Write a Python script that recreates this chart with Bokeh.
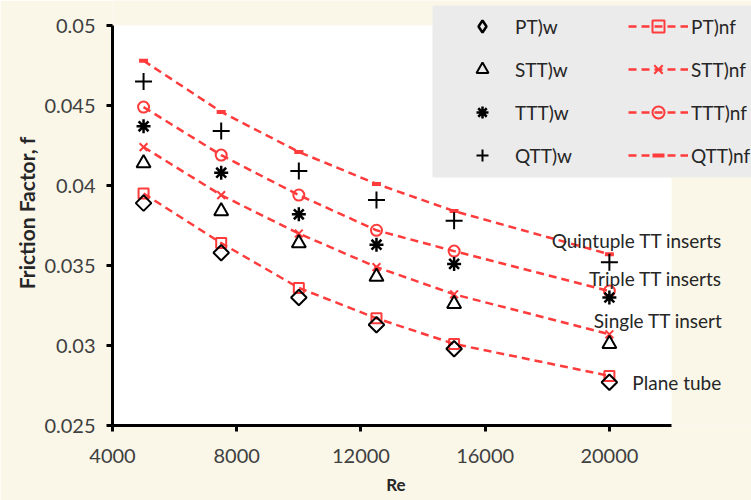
import math
from bokeh.plotting import figure
from bokeh.models import (Legend, LegendItem, FixedTicker, NumeralTickFormatter, Label,
                          BoxAnnotation)
from bokeh.embed import file_html
from bokeh.resources import INLINE

# ---- data ----
Re = [5000, 7500, 10000, 12500, 15000, 20000]
pt_w = [0.0389, 0.0358, 0.0330, 0.0313, 0.0298, 0.0277]
stt_w = [0.0414, 0.0384, 0.0364, 0.0343, 0.0326, 0.0301]
ttt_w = [0.0437, 0.0408, 0.0382, 0.0363, 0.0351, 0.0330]
qtt_w = [0.0465, 0.0434, 0.0409, 0.0391, 0.0378, 0.0352]
pt_nf = [0.0395, 0.0364, 0.0336, 0.0317, 0.0301, 0.0281]
stt_nf = [0.0424, 0.0394, 0.0370, 0.0349, 0.0332, 0.0307]
ttt_nf = [0.0449, 0.0419, 0.0394, 0.0372, 0.0359, 0.0334]
qtt_nf = [0.0478, 0.0446, 0.0421, 0.0401, 0.0384, 0.0357]
x_ticks = [4000, 8000, 12000, 16000, 20000]
y_ticks = [0.025, 0.03, 0.035, 0.04, 0.045, 0.05]
annotations = ["Quintuple TT inserts", "Triple TT inserts", "Single TT insert", "Plane tube"]

X_MIN, X_MAX = 4000, 22000
Y_MIN, Y_MAX = 0.025, 0.05

CREAM = "#faf7e9"
RED = "#ff3b3b"
BLACK = "#000000"
TXT = "#262626"
FONT = "Lato"

# the frame covers the plot area plus the space used by the legend/labels
p = figure(frame_width=639, frame_height=425,
           min_border_left=112, min_border_right=0,
           min_border_top=0, min_border_bottom=75,
           x_range=(X_MIN, 24576), y_range=(Y_MIN, 0.0515625),
           output_backend="svg", toolbar_location=None)
p.background_fill_color = CREAM
p.border_fill_color = CREAM
p.outline_line_color = None
p.xgrid.grid_line_color = None
p.ygrid.grid_line_color = None

# white plot area
p.add_layout(BoxAnnotation(left=X_MIN, right=X_MAX, bottom=Y_MIN, top=Y_MAX,
                           fill_color="white", fill_alpha=1.0, line_color=None,
                           level="underlay"))
# legend background box
p.add_layout(BoxAnnotation(left=14304, bottom=0.0405, top=0.05125,
                           fill_color="#ebebeb", fill_alpha=1.0, line_color=None,
                           level="underlay"))

for ax in (p.xaxis[0], p.yaxis[0]):
    ax.axis_line_width = 3
    ax.axis_line_color = BLACK
    ax.major_tick_line_width = 3
    ax.major_tick_line_color = BLACK
    ax.major_tick_out = 6
    ax.major_tick_in = 0
    ax.minor_tick_line_color = None
    ax.major_label_text_font = FONT
    ax.major_label_text_font_size = "20px"
    ax.major_label_text_color = "#404040"
    ax.axis_label_text_font = FONT
    ax.axis_label_text_font_style = "bold"
    ax.axis_label_text_color = TXT

p.xaxis.bounds = (X_MIN, X_MAX)
p.xaxis.ticker = FixedTicker(ticks=x_ticks)
p.xaxis.formatter = NumeralTickFormatter(format="0")
p.xaxis.major_label_standoff = 17
# trailing wide spaces keep "Re" centred under the plot area rather than the wider frame
p.xaxis.axis_label = "Re" + "\u2003" * 5 + "\u2002"
p.xaxis.axis_label_text_font_size = "17px"
p.xaxis.axis_label_standoff = 8

p.yaxis.bounds = (Y_MIN, Y_MAX)
p.yaxis.ticker = FixedTicker(ticks=y_ticks)
p.yaxis.formatter = NumeralTickFormatter(format="0.[000]")
p.yaxis.axis_label = "Friction Factor, f"
p.yaxis.axis_label_text_font_size = "21px"
p.yaxis.major_label_standoff = 11
p.yaxis.axis_label_standoff = 2

# numerical (nf) series: red dashed lines with markers
dash = "8 5"
l_pt = p.line(Re, pt_nf, line_color=RED, line_width=2.5, line_dash=dash)
m_pt = p.scatter(Re, pt_nf, marker="square", size=10, fill_color=None, line_color=RED, line_width=2)
l_stt = p.line(Re, stt_nf, line_color=RED, line_width=2.5, line_dash=dash)
m_stt = p.scatter(Re, stt_nf, marker="x", size=11, line_color=RED, line_width=2)
l_ttt = p.line(Re, ttt_nf, line_color=RED, line_width=2.5, line_dash=dash)
m_ttt = p.scatter(Re, ttt_nf, marker="circle", size=11, fill_color=None, line_color=RED, line_width=2)
l_qtt = p.line(Re, qtt_nf, line_color=RED, line_width=2.5, line_dash=dash)
m_qtt = p.scatter(Re, qtt_nf, marker="dash", size=9, line_color=RED, line_width=4)

# experimental (w) series: black markers
w_pt = p.scatter(Re, pt_w, marker="square", angle=math.pi / 4, size=11, fill_color=None, line_color=BLACK, line_width=2)
w_stt = p.scatter(Re, stt_w, marker="triangle", size=14, fill_color=None, line_color=BLACK, line_width=2)
w_ttt = p.scatter(Re, ttt_w, marker="asterisk", size=14, line_color=BLACK, line_width=2.5)
w_qtt = p.scatter(Re, qtt_w, marker="cross", size=17, line_color=BLACK, line_width=2)
# zero-size twin used only for the legend glyph (legend glyphs ignore the marker angle)
w_pt_leg = p.scatter(Re, pt_w, marker="diamond", size=0, fill_color=None, line_color=BLACK, line_width=2.5)

items = [
    LegendItem(label="PT)w", renderers=[w_pt_leg]),
    LegendItem(label="STT)w", renderers=[w_stt]),
    LegendItem(label="TTT)w", renderers=[w_ttt]),
    LegendItem(label="QTT)w", renderers=[w_qtt]),
    LegendItem(label="PT)nf", renderers=[l_pt, m_pt]),
    LegendItem(label="STT)nf", renderers=[l_stt, m_stt]),
    LegendItem(label="TTT)nf", renderers=[l_ttt, m_ttt]),
    LegendItem(label="QTT)nf", renderers=[l_qtt, m_qtt]),
]
legend = Legend(items=items, ncols=2, location=(340, 255),
                glyph_width=60, glyph_height=30, label_height=20, label_width=100,
                label_standoff=3, spacing=13, padding=0, margin=0,
                background_fill_alpha=0.0, border_line_color=None,
                label_text_font=FONT, label_text_font_size="19px", label_text_color=TXT)
p.add_layout(legend, "center")

ann_x = [18140, 19340, 19500, 20740]
ann_y = [0.03656, 0.03419, 0.03156, 0.02769]
for t, ax_, ay_ in zip(annotations, ann_x, ann_y):
    p.add_layout(Label(x=ax_, y=ay_, text=t, text_font=FONT, text_font_size="19px",
                       text_color=TXT, text_baseline="middle", text_align="left"))

html = file_html(p, INLINE)
html = html.replace("<body>", '<body style="background-color:%s">' % CREAM, 1)
open("out.html", "w").write(html)
